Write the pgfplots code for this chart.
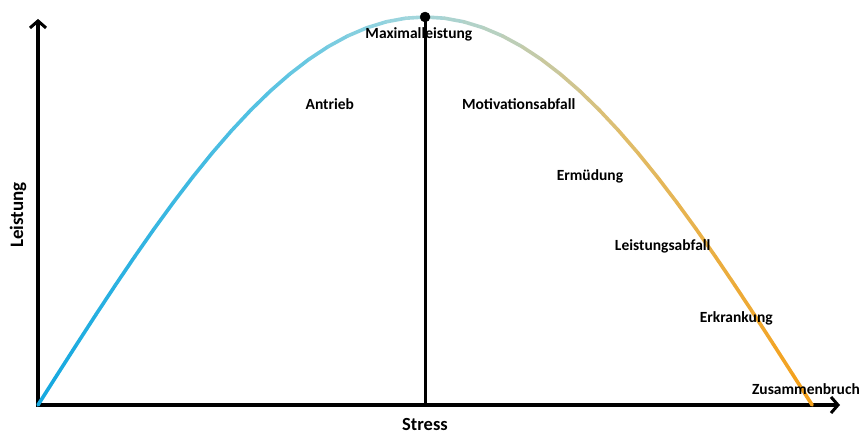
\documentclass[border=0pt]{standalone}
\usepackage{pgfplots}
\pgfplotsset{compat=1.18}
\usepackage{fontspec}
\setmainfont{Carlito}
\usetikzlibrary{arrows.meta}

\tikzset{lbl/.style={font=\fontsize{15.5}{17}\selectfont\bfseries, inner sep=0pt}}

\begin{document}
\begin{tikzpicture}
\begin{axis}[
    scale only axis,
    width=802pt, height=388pt,
    xmin=0, xmax=103.6,
    ymin=0, ymax=100,
    axis lines=none,
    xtick=\empty, ytick=\empty,
    clip=false,
    colormap={curve}{rgb255(0)=(20,168,224) rgb255(30)=(88,195,226) rgb255(48)=(160,214,222) rgb255(60)=(186,208,190) rgb255(76)=(224,188,105) rgb255(100)=(245,160,24)},
    point meta min=0, point meta max=100,
]
\coordinate (O) at (axis cs:0,0);
% Achsen
\draw[line width=3.2pt, -{Straight Barb[length=7pt,width=16pt,line width=3pt]}] (axis cs:-0.2,0) -- (axis cs:103.6,0);
\draw[line width=3.2pt, -{Straight Barb[length=7pt,width=16pt,line width=3pt]}] (axis cs:0,-0.4) -- (axis cs:0,99.5);
% Leistungskurve
\addplot[mesh, point meta=x, line width=3.6pt, line cap=round] coordinates {
    (0,0) (2.5,7.85) (5,15.64) (7.5,23.35) (10,30.90) (12.5,38.27) (15,45.40)
    (17.5,52.25) (20,58.78) (22.5,64.95) (25,70.71) (27.5,76.04) (30,80.90)
    (32.5,85.26) (35,89.10) (37.5,92.39) (40,95.11) (42.5,97.24) (45,98.77)
    (47.5,99.69) (50,100) (52.5,99.69) (55,98.77) (57.5,97.24) (60,95.11)
    (62.5,92.39) (65,89.10) (67.5,85.26) (70,80.90) (72.5,76.04) (75,70.71)
    (77.5,64.95) (80,58.78) (82.5,52.25) (85,45.40) (87.5,38.27) (90,30.90)
    (92.5,23.35) (95,15.64) (97.5,7.85) (100,0)
};
% Maximum
\addplot[black, line width=3pt] coordinates {(50,0) (50,100)};
\addplot[only marks, mark=*, mark size=5pt, black] coordinates {(50,100)};

\node[lbl] at (axis cs:49.2,95.6) {Maximalleistung};
\node[lbl] at (axis cs:37.7,77.6) {Antrieb};
\node[lbl] at (axis cs:62.1,77.6) {Motivationsabfall};
\node[lbl] at (axis cs:71.3,58.8) {Ermüdung};
\node[lbl] at (axis cs:80.7,41.0) {Leistungsabfall};
\node[lbl] at (axis cs:90.2,22.2) {Erkrankung};
\node[lbl] at (axis cs:99.2,4.1) {Zusammenbruch};
\end{axis}
\node[font=\fontsize{18.5}{20}\selectfont\bfseries, inner sep=0pt] at ([shift={(387pt,-20pt)}]O) {Stress};
\node[font=\fontsize{19}{21}\selectfont\bfseries, rotate=90, inner sep=0pt] at ([shift={(-20pt,190pt)}]O) {Leistung};
\pgfresetboundingbox
\path[use as bounding box] ([shift={(-38pt,-29pt)}]O) rectangle ([shift={(825pt,405pt)}]O);
\end{tikzpicture}
\end{document}
